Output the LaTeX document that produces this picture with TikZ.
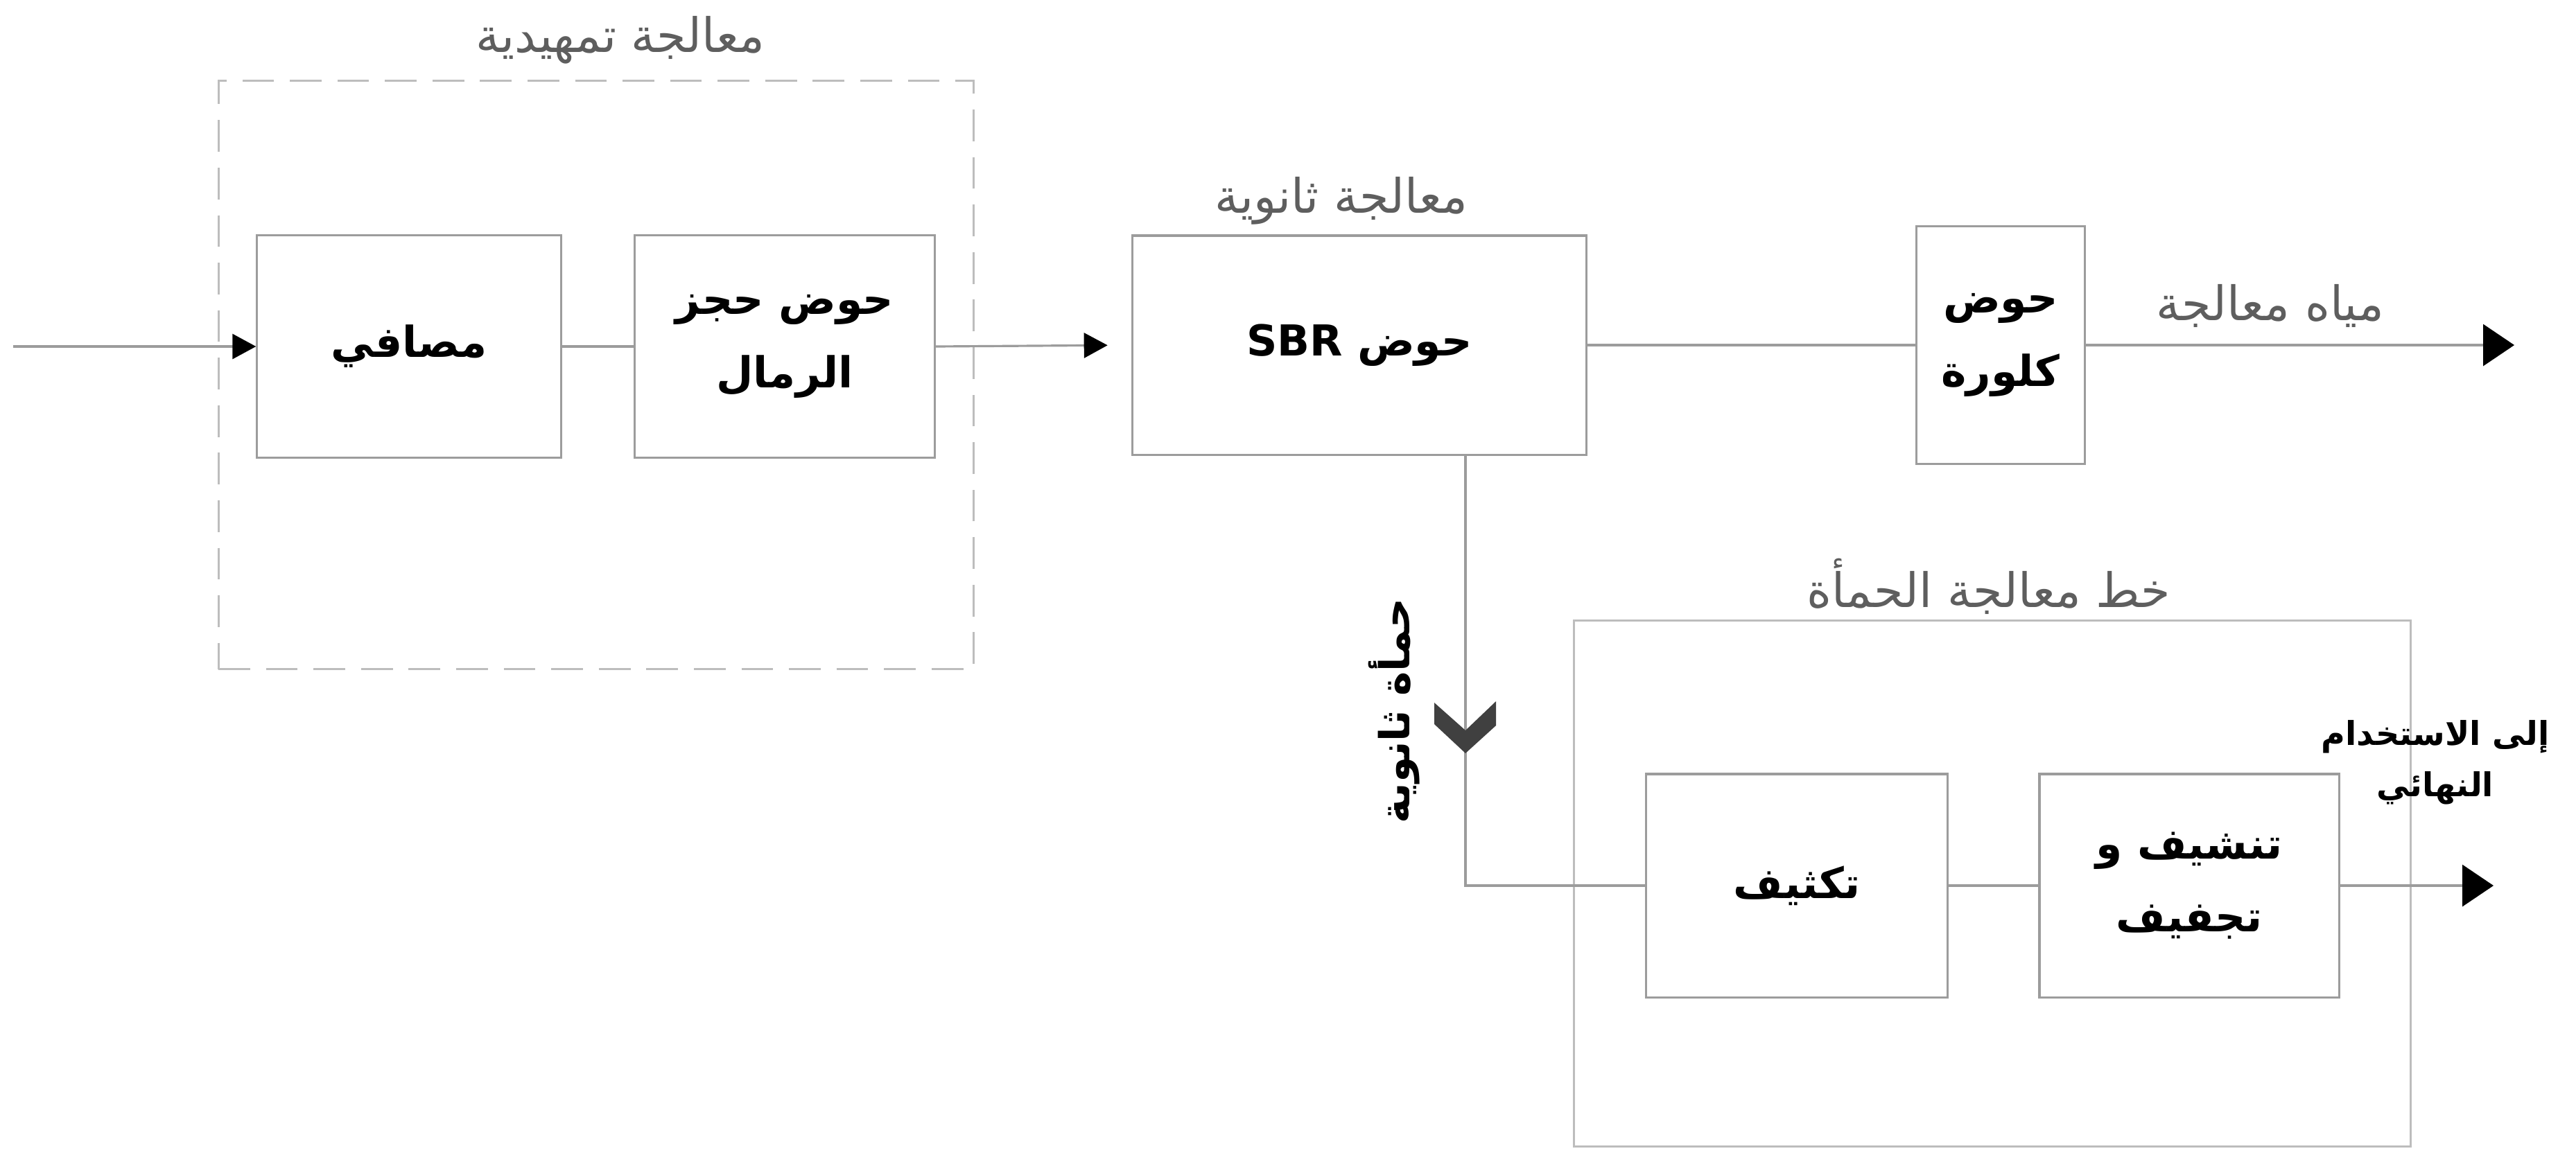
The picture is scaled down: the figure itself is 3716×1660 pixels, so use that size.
\documentclass[tikz,border=0pt]{standalone}
\usepackage{fontspec}
\usepackage{tikz}
\usetikzlibrary{arrows.meta}
\TeXXeTstate=1
\newfontfamily\arabicfont[Script=Arabic]{DejaVu Sans}
\definecolor{linegray}{HTML}{9C9C9C}
\definecolor{dashgray}{HTML}{BDBDBD}
\definecolor{titlegray}{HTML}{5E5E5E}
\definecolor{chevgray}{HTML}{404040}
\tikzstyle{block} = [rectangle, draw=linegray, line width=0.9pt, fill=white, align=center, inner sep=0pt, font=\arabicfont\bfseries\fontsize{17.5}{30}\selectfont]
\tikzstyle{group} = [rectangle, draw=linegray, line width=0.8pt, inner sep=0pt]
\tikzstyle{title} = [text=titlegray, font=\arabicfont\fontsize{19.5}{22}\selectfont]
\tikzstyle{note} = [align=center, font=\arabicfont\bfseries\fontsize{13.5}{21}\selectfont]
\tikzstyle{line} = [draw=linegray, line width=0.9pt]
\tikzstyle{arrow} = [line, -{Triangle[length=0.34cm, width=0.36cm, color=black]}]
\tikzstyle{bigarrow} = [line, -{Triangle[length=0.45cm, width=0.6cm, color=black]}]

\begin{document}
\begin{tikzpicture}[x=0.01cm, y=-0.01cm]
	\useasboundingbox (0,0) rectangle (3716,1660);
	
	% groups
	\node (pre) [group, draw=dashgray, dashed, dash pattern=on 13pt off 6.5pt, minimum width=10.89cm, minimum height=8.49cm] at (860,541) {};
	\node (pretitle) [title] at (895,58) {\beginR معالجة تمهيدية\endR};
	\node (sludge) [group, draw=dashgray, minimum width=12.06cm, minimum height=7.59cm] at (2874,1275) {};
	\node (sludgetitle) [title] at (2869,846) {\beginR خط معالجة الحمأة\endR};
	\node (sectitle) [title] at (1935,290) {\beginR معالجة ثانوية\endR};
	
	% process blocks
	\node (screen) [block, minimum width=4.38cm, minimum height=3.21cm] at (590,500) {\beginR مصافي\endR};
	\node (grit) [block, minimum width=4.33cm, minimum height=3.21cm] at (1132,500) {\beginR حوض حجز\endR\\\beginR الرمال\endR};
	\node (sbr) [block, minimum width=6.55cm, minimum height=3.16cm] at (1961,498) {\beginR حوض \beginL SBR\endL\endR};
	\node (chlor) [block, minimum width=2.43cm, minimum height=3.42cm] at (2886,498) {\beginR حوض\endR\\\beginR كلورة\endR};
	\node (thick) [block, minimum width=4.34cm, minimum height=3.22cm] at (2592,1278) {\beginR تكثيف\endR};
	\node (dry) [block, minimum width=4.32cm, minimum height=3.22cm] at (3158,1278) {\beginR تنشيف و\endR\\\beginR تجفيف\endR};
	
	% free ends
	\coordinate (in) at (19,500);
	\coordinate (out) at (3627,498);
	\coordinate (final) at (3597,1278);
	\coordinate (bend) at (2114,1278);
	\coordinate (chev) at (2114,1050);
	
	% connectors
	\draw [arrow] (in) -- (screen.west);
	\draw [line] (screen) -- (grit);
	\draw [arrow, shorten >=0.34cm] (grit.east) -- (sbr.west);
	\draw [line] (sbr) -- (chlor);
	\draw [bigarrow] (chlor.east) -- (out);
	\draw [line] (sbr.south -| bend) |- (thick.west);
	\draw [line] (thick) -- (dry);
	\draw [bigarrow] (dry.east) -- (final);
	\fill [chevgray] (chev) ++(-45,-36) -- ++(45,40) -- ++(44,-42) -- ++(0,35) -- ++(-44,40) -- ++(-45,-42) -- cycle;
	
	% labels
	\node (water) [title] at (3275,441) {\beginR مياه معالجة\endR};
	\node (reuse) [note] at (3513,1100) {\beginR إلى الاستخدام\endR\\\beginR النهائي\endR};
	\node (sludgelbl) [rotate=90, font=\arabicfont\bfseries\fontsize{17}{22}\selectfont] at (2011,1026) {\beginR حمأة ثانوية\endR};
	
\end{tikzpicture}
\end{document}
